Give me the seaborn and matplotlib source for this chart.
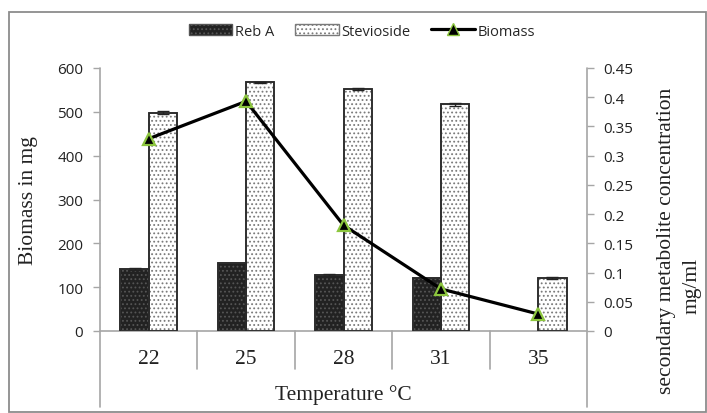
import numpy as np
import pandas as pd
import seaborn as sns
import matplotlib.pyplot as plt
from matplotlib.lines import Line2D
from matplotlib.patches import Patch, Rectangle
from matplotlib.transforms import blended_transform_factory

# ---- data ----
temps = ["22", "25", "28", "31", "35"]
reb_a = [141, 154, 127, 122, 0]
stevioside = [498, 567, 552, 517, 121]
reb_a_err = [2, 0, 2, 0, 0]
stev_err = [3, 2, 2, 3, 3]
biomass = [0.329, 0.393, 0.181, 0.072, 0.029]
left_ticks = [0, 100, 200, 300, 400, 500, 600]
right_ticks = [0, 0.05, 0.1, 0.15, 0.2, 0.25, 0.3, 0.35, 0.4, 0.45]

sns.set_theme(style="white")
plt.rcParams['font.family'] = ['Liberation Serif', 'DejaVu Serif']
plt.rcParams['hatch.linewidth'] = 0.8
SANS = ['Open Sans', 'DejaVu Sans']
GRAY = '#a6a6a6'
REB_FACE, REB_HATCH = '#222222', '#555555'
STEV_HATCH = '#7a7a7a'

W, H = 707, 414
fig = plt.figure(figsize=(W / 100, H / 100), dpi=100)
x0, x1, y0, y1 = 100, 587, 332, 69
ax = fig.add_axes([x0 / W, 1 - y0 / H, (x1 - x0) / W, (y0 - y1) / H])

df = pd.DataFrame({
    'Temperature': temps * 2,
    'value': reb_a + stevioside,
    'series': ['Reb A'] * len(temps) + ['Stevioside'] * len(temps),
})
sns.barplot(data=df, x='Temperature', y='value', hue='series',
            palette=[REB_FACE, 'white'], saturation=1, width=0.58,
            linewidth=1.2, legend=False, ax=ax, errorbar=None)

# styling of bars: hatch colour follows edgecolor, so redraw outlines on top
for cont, hc, hatch in ((ax.containers[0], REB_HATCH, '....'),
                        (ax.containers[1], STEV_HATCH, '....')):
    for p in cont:
        p.set_edgecolor(hc)
        p.set_hatch(hatch)
        if p.get_height() > 0:
            ax.add_patch(Rectangle(p.get_xy(), p.get_width(), p.get_height(),
                                   fill=False, ec='#2a2a2a', lw=1.3, zorder=3))
        else:
            p.set_visible(False)

# tiny error bars
for cont, err in ((ax.containers[0], reb_a_err), (ax.containers[1], stev_err)):
    xs = [p.get_x() + p.get_width() / 2 for p in cont]
    hs = [p.get_height() for p in cont]
    sel = [i for i, e in enumerate(err) if e > 0]
    ax.errorbar([xs[i] for i in sel], [hs[i] for i in sel],
                yerr=[err[i] for i in sel], fmt='none', ecolor='#222222',
                elinewidth=1, capsize=4, capthick=1, zorder=4)

ax.set_ylim(0, 600)
ax.set_yticks(left_ticks)
ax.set_yticklabels([str(v) for v in left_ticks], family=SANS, fontsize=11, color='#222222')
ax.tick_params(axis='y', length=5, width=1, color=GRAY, pad=7, left=True, direction='out')
ax.tick_params(axis='x', length=0, pad=13)
ax.set_xticks(range(len(temps)))
ax.set_xticklabels(temps, fontsize=15.5, color='#222222')
for s in ax.spines.values():
    s.set_visible(False)

# line on secondary axis
ax2 = ax.twinx()
sns.lineplot(x=np.arange(len(temps)), y=biomass, ax=ax2, color='black', lw=2.3,
             marker='^', markersize=9, markerfacecolor='black',
             markeredgecolor='#8cc63e', markeredgewidth=1.6, zorder=5)
ax2.set_ylim(0, 0.45)
ax2.set_yticks(right_ticks)
ax2.set_yticklabels([f"{v:g}" for v in right_ticks], family=SANS, fontsize=11, color='#222222')
ax2.tick_params(axis='y', length=5, width=1, color=GRAY, pad=7, right=True, direction='out')
for s in ax2.spines.values():
    s.set_visible(False)
ax.set_xlim(-0.5, len(temps) - 0.5)
ax2.set_xlim(-0.5, len(temps) - 0.5)

# axis lines (Excel-like multi-level category frame)
ah = y0 - y1
bt = blended_transform_factory(ax.transData, ax.transAxes)
ax.add_line(Line2D([-0.5, len(temps) - 0.5], [0, 0], transform=bt, color=GRAY, lw=1.2, clip_on=False, zorder=2))
for xe in (-0.5, len(temps) - 0.5):
    ax.add_line(Line2D([xe, xe], [-(408 - y0) / ah, 1], transform=bt, color=GRAY, lw=1.2, clip_on=False))
for i in range(1, len(temps)):
    ax.add_line(Line2D([i - 0.5, i - 0.5], [-(370 - y0) / ah, 0], transform=bt, color=GRAY, lw=1.2, clip_on=False))

# labels
ax.set_xlabel('Temperature °C', fontsize=15.5, color='#222222', va='center')
ax.xaxis.set_label_coords(0.5, -(395 - y0) / ah)
ax.set_ylabel('Biomass in mg', fontsize=15.5, color='#222222', ha='center', va='center')
ax.yaxis.set_label_coords(-(x0 - 28) / (x1 - x0), 0.5)
fig.text(667 / W, 1 - 241 / H, 'secondary metabolite concentration', fontsize=15.5,
         color='#222222', rotation=90, ha='center', va='center')
fig.text(692 / W, 1 - 286 / H, 'mg/ml', fontsize=15.5,
         color='#222222', rotation=90, ha='center', va='center')

# legend
handles = [
    Patch(facecolor=REB_FACE, edgecolor=REB_HATCH, hatch='....', label='Reb A'),
    Patch(facecolor='white', edgecolor=STEV_HATCH, hatch='....', label='Stevioside'),
    Line2D([], [], color='black', lw=2.3, marker='^', markersize=8, markerfacecolor='black',
           markeredgecolor='#8cc63e', label='Biomass'),
]
fig.legend(handles=handles, loc='center', bbox_to_anchor=(362 / W, 1 - 32 / H), ncol=3,
           frameon=False, prop={'family': SANS, 'size': 10.5}, handlelength=3.0,
           handleheight=0.7, handletextpad=0.2, columnspacing=1.4)

# outer border
fig.add_artist(Rectangle((9 / W, 1 / H), (W - 10.5) / W, (H - 14) / H, transform=fig.transFigure,
                         fill=False, ec='#8c8c8c', lw=1.3))

fig.savefig('out.png', dpi=100)
